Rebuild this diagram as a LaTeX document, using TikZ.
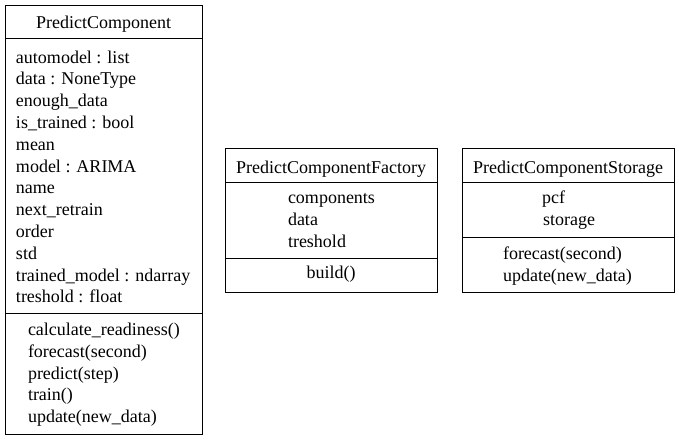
\documentclass[tikz,border=0pt]{standalone}
\usepackage{fontspec}
\setmainfont{Liberation Serif}
\begin{document}
\begin{tikzpicture}[x=1pt,y=-1pt,
  txt/.style={inner sep=0pt,outer sep=0pt,font=\fontsize{18}{21.8}\selectfont},
  lt/.style={txt,anchor=base west},
  ct/.style={txt,anchor=base},
  cls/.style={draw,line width=1pt,anchor=north west,inner sep=0pt,outer sep=0pt},
  sep/.style={line width=1pt}]
\useasboundingbox (0,0) rectangle (679,440);
% Box 1
\node[cls,minimum width=197pt,minimum height=429pt] (b1) at (5,5) {};
\coordinate (b1d1l) at (5,38); \coordinate (b1d1r) at (202,38);
\coordinate (b1d2l) at (5,313); \coordinate (b1d2r) at (202,313);
\draw[sep] (b1d1l) -- (b1d1r);
\draw[sep] (b1d2l) -- (b1d2r);
\node[ct] (h1) at (103.5,28) {PredictComponent};
\node[lt] (a1) at (16,63.0) {automodel : list};
\node[lt] (a2) at (16,84.8) {data : NoneType};
\node[lt] (a3) at (16,106.6) {enough\_data};
\node[lt] (a4) at (16,128.4) {is\_trained : bool};
\node[lt] (a5) at (16,150.2) {mean};
\node[lt] (a6) at (16,172.0) {model : ARIMA};
\node[lt] (a7) at (16,193.8) {name};
\node[lt] (a8) at (16,215.6) {next\_retrain};
\node[lt] (a9) at (16,237.4) {order};
\node[lt] (a10) at (16,259.2) {std};
\node[lt] (a11) at (16,281.0) {trained\_model : ndarray};
\node[lt] (a12) at (16,302.8) {treshold : float};
\node[lt] (m1) at (28,335.5) {calculate\_readiness()};
\node[lt] (m2) at (28,357.3) {forecast(second)};
\node[lt] (m3) at (28,379.1) {predict(step)};
\node[lt] (m4) at (28,400.9) {train()};
\node[lt] (m5) at (28,422.7) {update(new\_data)};
% Box 2
\node[cls,minimum width=212pt,minimum height=144pt] (b2) at (225,148) {};
\coordinate (b2d1l) at (225,182); \coordinate (b2d1r) at (437,182);
\coordinate (b2d2l) at (225,258); \coordinate (b2d2r) at (437,258);
\draw[sep] (b2d1l) -- (b2d1r);
\draw[sep] (b2d2l) -- (b2d2r);
\node[ct] (h2) at (331,173) {PredictComponentFactory};
\node[lt] (f1) at (288,203.5) {components};
\node[lt] (f2) at (288,225.3) {data};
\node[lt] (f3) at (288,247.1) {treshold};
\node[ct] (fm1) at (331,278.5) {build()};
% Box 3
\node[cls,minimum width=212pt,minimum height=144pt] (b3) at (462,148) {};
\coordinate (b3d1l) at (462,182); \coordinate (b3d1r) at (674,182);
\coordinate (b3d2l) at (462,237); \coordinate (b3d2r) at (674,237);
\draw[sep] (b3d1l) -- (b3d1r);
\draw[sep] (b3d2l) -- (b3d2r);
\node[ct] (h3) at (568,173) {PredictComponentStorage};
\node[lt] (s1) at (542,203.5) {pcf};
\node[lt] (s2) at (543,225.3) {storage};
\node[lt] (sm1) at (503,259.5) {forecast(second)};
\node[lt] (sm2) at (503,281.3) {update(new\_data)};
\end{tikzpicture}
\end{document}
